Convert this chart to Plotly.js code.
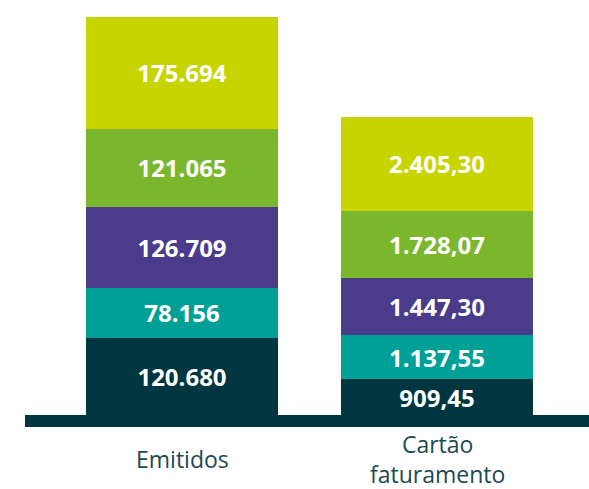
<!DOCTYPE html>
<html>
<head>
<meta charset="utf-8">
<script src="https://cdn.plot.ly/plotly-3.0.1.min.js"></script>
<style>html,body{margin:0;padding:0;background:#fff;}#chart{width:589px;height:489px;}</style>
</head>
<body>
<div id="chart"></div>
<script>
const categories = ['Emitidos', 'Cartão faturamento'];
const categoryLabels = ['Emitidos', 'Cartão<br>faturamento'];
const emitidos = [120680, 78156, 126709, 121065, 175694];
const cartao = [909.45, 1137.55, 1447.30, 1728.07, 2405.30];
const colors = ['#00363f', '#00a096', '#4b3c8b', '#7ab72c', '#c8d400'];

const font = 'Open Sans, Noto Sans, sans-serif';
const traces = [];
emitidos.forEach((v, i) => {
  traces.push({
    type: 'bar', x: [categories[0]], y: [v], xaxis: 'x', yaxis: 'y',
    marker: {color: colors[i], line: {width: 0}}, width: 0.75,
    texttemplate: '%{y:,.0f}', textposition: 'inside', insidetextanchor: 'middle',
    textangle: 0, constraintext: 'none',
    textfont: {color: '#ffffff', size: 24, family: font, weight: 'bold'},
    hoverinfo: 'skip', showlegend: false
  });
});
cartao.forEach((v, i) => {
  traces.push({
    type: 'bar', x: [categories[1]], y: [v], xaxis: 'x', yaxis: 'y2',
    marker: {color: colors[i], line: {width: 0}}, width: 0.75,
    texttemplate: '%{y:,.2f}', textposition: 'inside', insidetextanchor: 'middle',
    textangle: 0, constraintext: 'none',
    textfont: {color: '#ffffff', size: 24, family: font, weight: 'bold'},
    hoverinfo: 'skip', showlegend: false
  });
});

const annotations = categories.map((c, i) => ({
  x: c, xref: 'x', y: -0.077, yref: 'paper', yanchor: 'middle', xanchor: 'center',
  text: categoryLabels[i], showarrow: false, align: 'center',
  font: {family: font, size: 23, color: '#1c4a50'}
}));

const layout = {
  width: 589, height: 489,
  margin: {l: 25, r: 0, t: 10, b: 62},
  paper_bgcolor: '#ffffff', plot_bgcolor: '#ffffff',
  barmode: 'stack', separators: ',.',
  showlegend: false,
  xaxis: {type: 'category', categoryorder: 'array', categoryarray: categories,
          range: [-0.6157, 1.596], showticklabels: false, showgrid: false,
          zeroline: false, showline: false, ticks: ''},
  yaxis: {range: [-18749, 632772], visible: false, showgrid: false, zeroline: false},
  yaxis2: {range: [-306.9, 10356.1], overlaying: 'y', visible: false, showgrid: false, zeroline: false},
  shapes: [{type: 'rect', xref: 'paper', yref: 'paper', x0: 0, x1: 1, y0: 0, y1: 12/417,
            fillcolor: '#00363f', line: {width: 0}, layer: 'above'}],
  annotations: annotations
};

Plotly.newPlot('chart', traces, layout, {displayModeBar: false, staticPlot: true});
</script>
</body>
</html>
